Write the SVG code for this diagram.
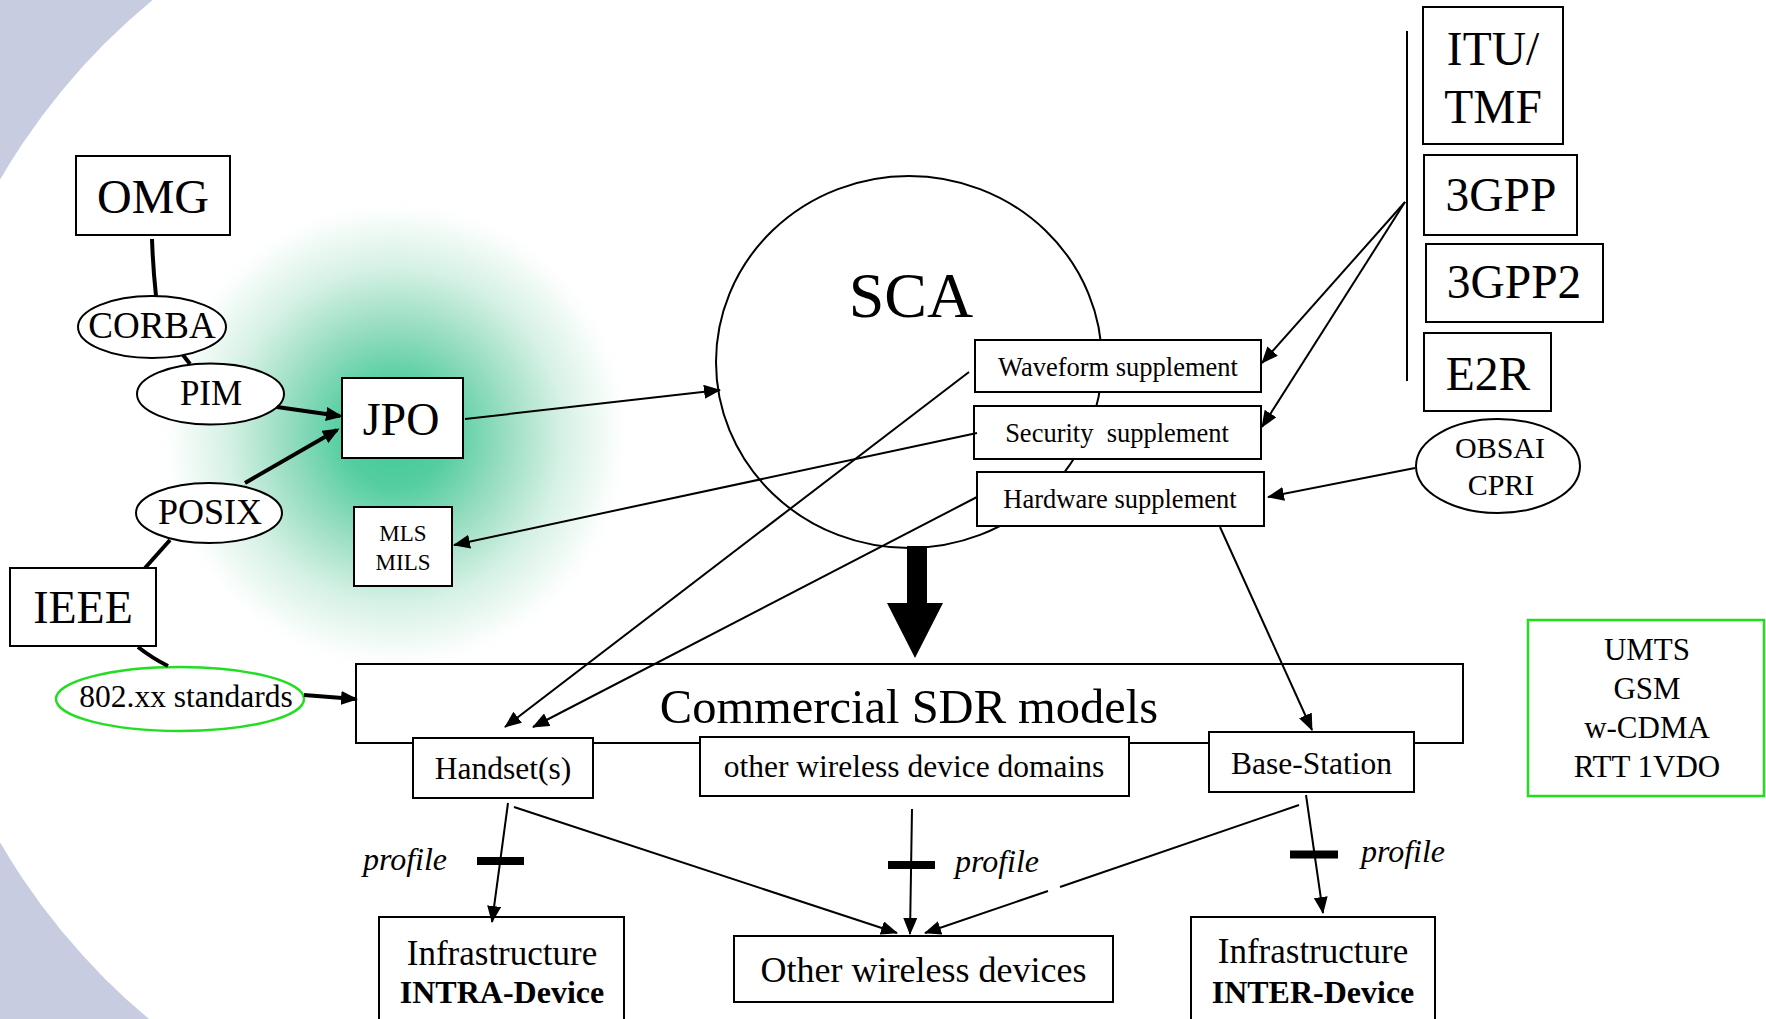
<svg xmlns="http://www.w3.org/2000/svg" width="1766" height="1019" viewBox="0 0 1766 1019">
<defs>
<style>
.bx{fill:#fff;stroke:#000;stroke-width:2}
.gb{fill:#fff;stroke:#22dd22;stroke-width:2.5}
.t{font-family:"Liberation Serif","Times New Roman",serif;fill:#000;text-anchor:middle}
.i{font-style:italic}
.b{font-weight:bold}
.ln{stroke:#000;stroke-width:2;fill:none}
.tk{stroke:#000;stroke-width:4;fill:none}
.bar{stroke:#000;stroke-width:8}
</style>
<marker id="ah" markerUnits="userSpaceOnUse" markerWidth="18" markerHeight="14" refX="16" refY="7" orient="auto"><path d="M0,0 L17,7 L0,14 z" fill="#000"/></marker>
<marker id="ahk" markerUnits="userSpaceOnUse" markerWidth="18" markerHeight="14" refX="14" refY="7" orient="auto"><path d="M0,0 L17,7 L0,14 z" fill="#000"/></marker>
<radialGradient id="glow" cx="395" cy="435" r="240" gradientUnits="userSpaceOnUse">
<stop offset="0" stop-color="#3fc996"/>
<stop offset="0.22" stop-color="#55cea1"/>
<stop offset="0.45" stop-color="#96ddc0"/>
<stop offset="0.7" stop-color="#d6f1e5"/>
<stop offset="0.88" stop-color="#f3fbf7"/>
<stop offset="1" stop-color="#ffffff" stop-opacity="0"/>
</radialGradient>
</defs>
<rect width="1766" height="1019" fill="#c7cce0"/>
<circle cx="572" cy="511" r="661" fill="#fff"/>
<path d="M572,0 H1766 V1019 H572 Z" fill="#fff"/>
<circle cx="395" cy="435" r="240" fill="url(#glow)"/>

<g id="OMG"><rect class="bx" x="76" y="156" width="154" height="79"/><text class="t" x="153" y="213" font-size="48">OMG</text></g>
<g id="CORBA"><ellipse class="bx" cx="152" cy="327" rx="74" ry="31"/><text class="t" x="152" y="338" font-size="37">CORBA</text></g>
<g id="PIM"><ellipse class="bx" cx="210.5" cy="394" rx="73.5" ry="30.5"/><text class="t" x="211" y="405" font-size="35">PIM</text></g>
<g id="JPO"><rect class="bx" x="342" y="378" width="121" height="80"/><text class="t" x="401" y="435" font-size="46">JPO</text></g>
<g id="POSIX"><ellipse class="bx" cx="209" cy="513" rx="73" ry="30"/><text class="t" x="210" y="524" font-size="36">POSIX</text></g>
<g id="IEEE"><rect class="bx" x="10" y="568" width="146" height="78"/><text class="t" x="83" y="623" font-size="46">IEEE</text></g>
<g id="std802"><ellipse class="gb" cx="180" cy="699" rx="124" ry="32"/><text class="t" x="186" y="707" font-size="31.5">802.xx standards</text></g>
<g id="MLS"><rect class="bx" x="354" y="507" width="98" height="79"/><text class="t" x="403" y="541" font-size="23">MLS</text><text class="t" x="403" y="570" font-size="23">MILS</text></g>

<g id="SCA"><ellipse cx="909" cy="362" rx="193" ry="186" fill="none" stroke="#000" stroke-width="2"/><text class="t" x="911" y="317" font-size="64">SCA</text></g>
<g id="waveform"><rect class="bx" x="975" y="340" width="286" height="52"/><text class="t" x="1118" y="376" font-size="26.5">Waveform supplement</text></g>
<g id="security"><rect class="bx" x="974" y="406" width="287" height="53"/><text class="t" x="1117" y="442" font-size="26.5" xml:space="preserve">Security  supplement</text></g>
<g id="hardware"><rect class="bx" x="977" y="472" width="287" height="54"/><text class="t" x="1120" y="508" font-size="26.5">Hardware supplement</text></g>

<g id="ITU"><rect class="bx" x="1423" y="7" width="140" height="137"/><text class="t" x="1493" y="65" font-size="47.5">ITU/</text><text class="t" x="1493" y="123" font-size="47.5">TMF</text></g>
<g id="GPP3"><rect class="bx" x="1424" y="155" width="153" height="80"/><text class="t" x="1501" y="211" font-size="47.5">3GPP</text></g>
<g id="GPP32"><rect class="bx" x="1426" y="244" width="177" height="78"/><text class="t" x="1514" y="298" font-size="47.5">3GPP2</text></g>
<g id="E2R"><rect class="bx" x="1424" y="333" width="127" height="78"/><text class="t" x="1488" y="390" font-size="47.5">E2R</text></g>
<g id="OBSAI"><ellipse class="bx" cx="1498" cy="466" rx="82" ry="47"/><text class="t" x="1500" y="458" font-size="30">OBSAI</text><text class="t" x="1501" y="495" font-size="30">CPRI</text></g>

<g id="commercial"><rect class="bx" x="356" y="664" width="1107" height="79"/><text class="t" x="909" y="723" font-size="48.5">Commercial SDR models</text></g>
<g id="handset"><rect class="bx" x="413" y="738" width="180" height="60"/><text class="t" x="503" y="779" font-size="31.5">Handset(s)</text></g>
<g id="domains"><rect class="bx" x="700" y="737" width="429" height="59"/><text class="t" x="914" y="777" font-size="31.5">other wireless device domains</text></g>
<g id="basestation"><rect class="bx" x="1209" y="732" width="205" height="60"/><text class="t" x="1311.5" y="774" font-size="31.5">Base-Station</text></g>
<g id="umts"><rect class="gb" x="1528" y="620" width="236" height="176"/><text class="t" x="1647" y="660" font-size="31">UMTS</text><text class="t" x="1647" y="699" font-size="31">GSM</text><text class="t" x="1647" y="738" font-size="31">w-CDMA</text><text class="t" x="1647" y="777" font-size="31">RTT 1VDO</text></g>
<g id="intra"><rect class="bx" x="379" y="917" width="245" height="120"/><text class="t" x="502" y="965" font-size="35">Infrastructure</text><text class="t b" x="502" y="1003" font-size="32">INTRA-Device</text></g>
<g id="otherdev"><rect class="bx" x="734" y="936" width="379" height="66"/><text class="t" x="923.5" y="982" font-size="36">Other wireless devices</text></g>
<g id="inter"><rect class="bx" x="1191" y="917" width="244" height="120"/><text class="t" x="1313" y="963" font-size="35">Infrastructure</text><text class="t b" x="1313" y="1003" font-size="32">INTER-Device</text></g>

<g id="connectors">
<path class="tk" d="M152,239 Q153,268 156,296" stroke-width="3.5"/>
<path class="tk" d="M183,355 L190,364"/>
<path class="tk" d="M277,407 L340,416" marker-end="url(#ahk)"/>
<path class="tk" d="M245,483 L337,430" marker-end="url(#ahk)"/>
<path class="tk" d="M170,540 L145,568"/>
<path class="tk" d="M138,647 Q152,658 168,666"/>
<path class="tk" d="M304,695 L355,699" marker-end="url(#ahk)"/>
<path class="ln" d="M465,419 L720,390" marker-end="url(#ah)"/>
<path class="ln" d="M977,433 L454,545" marker-end="url(#ah)"/>
<path class="ln" d="M969,372 L505,727" marker-end="url(#ah)"/>
<path class="ln" d="M977,497 L533,727" marker-end="url(#ah)"/>
<path class="ln" d="M1407,31 L1407,381"/>
<path class="ln" d="M1405,202 L1262,363" marker-end="url(#ah)"/>
<path class="ln" d="M1405,202 L1262,427" marker-end="url(#ah)"/>
<path class="ln" d="M1415,468 L1268,497" marker-end="url(#ah)"/>
<path class="ln" d="M1220,527 L1312,730" marker-end="url(#ah)"/>
<path class="ln" d="M508,803 L492,922" marker-end="url(#ah)"/>
<path class="ln" d="M514,807 L897,933" marker-end="url(#ah)"/>
<path class="ln" d="M912,809 L910,934" marker-end="url(#ah)"/>
<path class="ln" d="M1299,805 L1060,887"/>
<path class="ln" d="M1048,891 L925,933" marker-end="url(#ah)"/>
<path class="ln" d="M1306,795 L1323,913" marker-end="url(#ah)"/>
<line class="bar" x1="477" y1="861" x2="524" y2="861"/>
<line class="bar" x1="888" y1="865" x2="935" y2="865"/>
<line class="bar" x1="1290" y1="854.5" x2="1338" y2="854.5"/>
<path d="M907,546 H927 V603 H943 L915,658 L887,603 H907 Z" fill="#000"/>
<text class="t i" x="405" y="870" font-size="32">profile</text>
<text class="t i" x="997" y="872" font-size="32">profile</text>
<text class="t i" x="1403" y="862" font-size="32">profile</text>
</g>
</svg>
